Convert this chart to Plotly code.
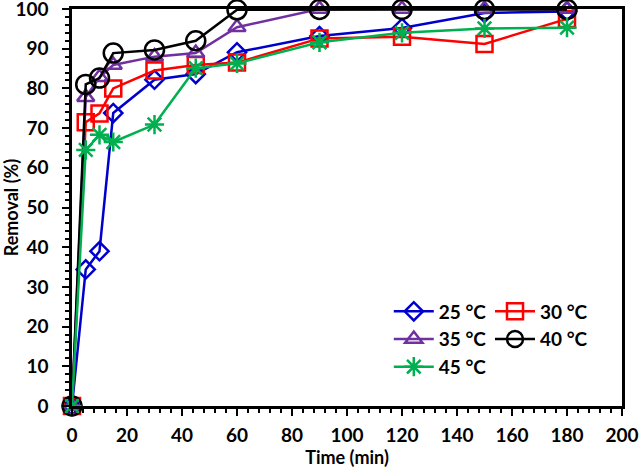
import plotly.graph_objects as go

time_min = [0, 5, 10, 15, 30, 45, 60, 90, 120, 150, 180]
r25 = [0, 34.4, 39.0, 73.8, 82.2, 83.6, 89.1, 93.2, 95.2, 99.0, 99.4]
r30 = [0, 71.5, 73.7, 80.0, 84.5, 85.9, 86.5, 92.6, 93.0, 91.2, 97.5]
r35 = [0, 77.8, 82.8, 85.9, 88.0, 88.9, 95.4, 100, 100, 100, 100]
r40 = [0, 81.0, 82.6, 88.9, 89.7, 92.0, 99.8, 99.9, 99.9, 99.9, 99.9]
r45 = [0, 64.5, 68.3, 66.5, 70.9, 85.1, 86.3, 91.6, 94.0, 95.1, 95.3]

names = ["25 °C", "30 °C", "35 °C", "40 °C", "45 °C"]
colors = ["#0000CC", "#FF0000", "#7030A0", "#000000", "#00B050"]
symbols = ["diamond-open", "square-open", "triangle-up-open", "circle-open", "asterisk-open"]
sizes = [14, 16, 15, 19, 16]
legend_ids = ["legend", "legend2", "legend", "legend2", "legend"]
series = [r25, r30, r35, r40, r45]

fig = go.Figure()
for nm, col, sym, sz, ys, lg in zip(names, colors, symbols, sizes, series, legend_ids):
    fig.add_trace(go.Scatter(
        x=time_min, y=ys, name=nm, mode="lines+markers",
        line=dict(color=col, width=2.5),
        marker=dict(symbol=sym, size=sz, color=col, line=dict(color=col, width=2.5)),
        cliponaxis=False, legend=lg,
    ))

font_fam = "Lato, Open Sans, sans-serif"
leg_font = dict(size=19, family=font_fam, color="black", weight="bold")
fig.update_layout(
    width=642, height=470,
    margin=dict(l=72, r=20, t=9, b=64, autoexpand=False),
    paper_bgcolor="white", plot_bgcolor="white",
    font=dict(family=font_fam, size=18, color="black", weight="bold"),
    showlegend=True,
    legend=dict(
        x=0.576, y=0.286, xanchor="left", yanchor="top",
        orientation="v", font=leg_font, bgcolor="rgba(0,0,0,0)",
        tracegroupgap=0, itemwidth=40,
    ),
    legend2=dict(
        x=0.760, y=0.286, xanchor="left", yanchor="top",
        orientation="v", font=leg_font, bgcolor="rgba(0,0,0,0)",
        tracegroupgap=0, itemwidth=40,
    ),
)
fig.update_xaxes(
    automargin=False, ticklabeloverflow="allow", ticklabelstandoff=3,
    range=[0, 200], tickmode="linear", tick0=0, dtick=20,
    ticks="outside", ticklen=7, tickwidth=2, tickcolor="black",
    minor=dict(ticks="outside", dtick=4, ticklen=4, tickwidth=2, tickcolor="black"),
    showline=True, linewidth=2.5, linecolor="black", mirror=True,
    showgrid=False, zeroline=False,
    title=dict(text="Time (min)", font=dict(size=18, weight="bold"), standoff=4),
    tickfont=dict(size=19, weight="bold"),
)
fig.update_yaxes(
    automargin=False, ticklabeloverflow="allow", ticklabelstandoff=10,
    range=[0, 100], tickmode="linear", tick0=0, dtick=10,
    ticks="outside", ticklen=7, tickwidth=2, tickcolor="black",
    minor=dict(ticks="outside", dtick=2, ticklen=4, tickwidth=2, tickcolor="black"),
    showline=True, linewidth=2.5, linecolor="black", mirror=True,
    showgrid=False, zeroline=False,
    title=dict(text="Removal (%)", font=dict(size=18, weight="bold"), standoff=0),
    tickfont=dict(size=19, weight="bold"),
)
fig.write_html("out.html", config={"displayModeBar": False},
               post_script="document.body.style.margin='0px';")
